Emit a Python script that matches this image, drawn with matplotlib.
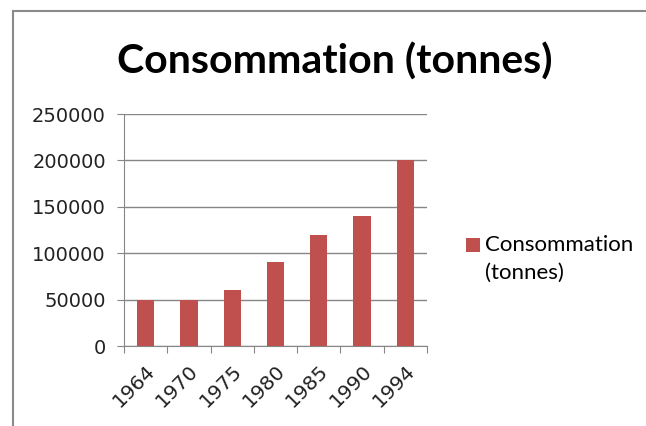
import numpy as np
import matplotlib.pyplot as plt
from matplotlib.lines import Line2D

# Consumption data
years = ["1964", "1970", "1975", "1980", "1985", "1990", "1994"]
consommation = [50000, 50000, 60000, 90000, 120000, 140000, 200000]
y_ticks = [0, 50000, 100000, 150000, 200000, 250000]

bar_color = "#C0504D"
line_color = "#868686"

fig = plt.figure(figsize=(6.46, 4.26), dpi=100)
ax = fig.add_axes([124 / 646, 1 - 346 / 426, (427 - 124) / 646, (346 - 114) / 426])

x = np.arange(len(years))
ax.bar(x, consommation, width=0.4, color=bar_color, zorder=3,
       label="Consommation\n(tonnes)")

ax.set_xlim(-0.5, len(years) - 0.5)
ax.set_ylim(0, 250000)
ax.set_yticks(y_ticks)
ax.set_yticklabels([str(v) for v in y_ticks], fontsize=14, fontfamily="DejaVu Sans",
                   color="#222222")
ax.yaxis.grid(True, color=line_color, linewidth=1, zorder=0)

# category boundary ticks on x axis
ax.set_xticks(np.arange(-0.5, len(years) + 0.5, 1))
ax.set_xticklabels([])
ax.set_xticks(x, minor=True)
ax.set_xticklabels(years, minor=True, rotation=45, ha="right",
                   rotation_mode="anchor", fontsize=14.5, fontfamily="DejaVu Sans",
                   color="#222222")
ax.tick_params(axis="x", which="minor", length=0, pad=11)
ax.tick_params(axis="x", which="major", length=5, color=line_color)
ax.tick_params(axis="y", length=5, color=line_color, pad=8)

for side in ["top", "right"]:
    ax.spines[side].set_visible(False)
ax.spines["left"].set_color(line_color)
ax.spines["bottom"].set_color(line_color)

fig.text(335 / 646, 1 - 62 / 426, "Consommation (tonnes)", ha="center", va="center",
         fontsize=29.5, fontweight="bold", fontfamily="Lato")

leg = fig.legend(loc="center left", bbox_to_anchor=(466 / 646, 1 - 259 / 426),
                 frameon=False, prop={"family": "Lato", "size": 16},
                 handlelength=0.62, handleheight=0.62, handletextpad=0.25,
                 borderpad=0, borderaxespad=0)
leg.get_texts()[0].set_linespacing(1.45)
# lift the colour square up to the first text line
box = leg.legend_handles[0]
box.set_y(box.get_y() + 10)

# outer chart border (top and left edges)
fig.add_artist(Line2D([12.5 / 646, 12.5 / 646], [0, 1 - 10.5 / 426],
                      transform=fig.transFigure, color="#8a8a8a", linewidth=1.5))
fig.add_artist(Line2D([12.5 / 646, 1], [1 - 10.5 / 426, 1 - 10.5 / 426],
                      transform=fig.transFigure, color="#8a8a8a", linewidth=1.5))

fig.savefig("out.png", dpi=100)
